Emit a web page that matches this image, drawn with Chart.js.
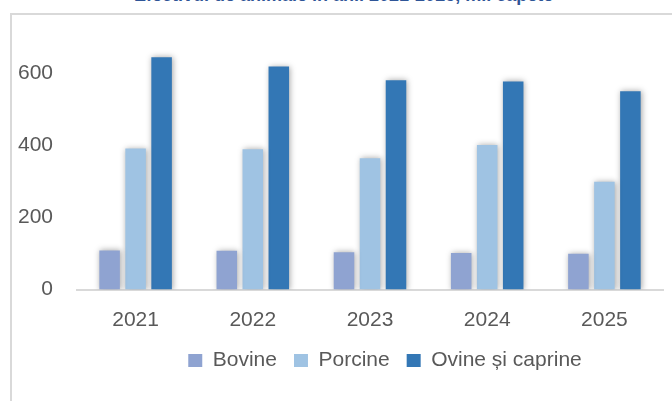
<!DOCTYPE html>
<html>
<head>
<meta charset="utf-8">
<script src="https://cdn.jsdelivr.net/npm/chart.js@4.4.1/dist/chart.umd.min.js"></script>
<style>
  html, body { margin: 0; padding: 0; background: #ffffff; overflow: hidden; width: 672px; height: 401px; }
  #frame { position: absolute; left: 10px; top: 13px; width: 800px; height: 500px;
           border-left: 2px solid #d9d9d9; border-top: 2px solid #d9d9d9; }
  #title { position: absolute; left: 134px; top: -15px; white-space: nowrap;
           font: bold 18px "Liberation Sans", Arial, sans-serif; line-height: 20px; color: #2f5597; }
  #wrap { position: absolute; left: 0; top: 0; width: 770px; height: 381px; }
</style>
</head>
<body>
<div id="frame"></div>
<div id="title">Efectivul de animale în anii 2021-2025, mii capete</div>
<div id="wrap"><canvas id="c"></canvas></div>
<script>
const categories = ['2021', '2022', '2023', '2024', '2025'];
const seriesNames = ['Bovine', 'Porcine', 'Ovine și caprine'];
const bovine = [108, 107, 103, 101, 99];
const porcine = [390, 388, 363, 400, 298];
const ovine = [643, 617, 579, 576, 549];
const yTicks = [0, 200, 400, 600];

const colors = ['#8fa3d1', '#9fc3e3', '#3377b5'];
const textColor = '#595959';
const font = { family: '"Liberation Sans", Arial, sans-serif', size: 21 };

const shadowPlugin = {
  id: 'barShadow',
  beforeDatasetsDraw(chart) {
    const ctx = chart.ctx;
    ctx.save();
    ctx.shadowColor = 'rgba(0,0,0,0.35)';
    ctx.shadowBlur = 6;
    ctx.shadowOffsetX = 1;
    ctx.shadowOffsetY = 0;
  },
  afterDatasetsDraw(chart) {
    chart.ctx.restore();
  }
};

new Chart(document.getElementById('c'), {
  type: 'bar',
  data: {
    labels: categories,
    datasets: [
      { label: seriesNames[0], data: bovine, backgroundColor: colors[0] },
      { label: seriesNames[1], data: porcine, backgroundColor: colors[1] },
      { label: seriesNames[2], data: ovine, backgroundColor: colors[2] }
    ]
  },
  options: {
    responsive: true,
    maintainAspectRatio: false,
    animation: false,
    devicePixelRatio: 1,
    categoryPercentage: 0.6655,
    barPercentage: 0.79,
    layout: { padding: { left: 0, right: 0, top: 34, bottom: 0 } },
    plugins: {
      title: { display: false },
      tooltip: { enabled: false },
      legend: {
        position: 'bottom',
        labels: {
          boxWidth: 14,
          boxHeight: 13,
          padding: 17,
          color: textColor,
          font: font
        }
      }
    },
    scales: {
      x: {
        grid: { display: false, drawTicks: false },
        border: { display: true, color: '#d9d9d9', width: 2 },
        ticks: { color: textColor, font: font, padding: 18 },
        afterFit(s) { s.height = 43.5; }
      },
      y: {
        min: 0,
        max: 700,
        grid: { display: false, drawTicks: false },
        border: { display: false },
        ticks: { color: textColor, font: font, padding: 24, stepSize: 200 },
        afterBuildTicks(s) { s.ticks = yTicks.map(v => ({ value: v })); },
        afterFit(s) { s.width = 77; }
      },
      y2: {
        position: 'right',
        display: true,
        grid: { display: false, drawTicks: false },
        border: { display: false },
        ticks: { display: false },
        afterFit(s) { s.width = 107; }
      }
    }
  },
  plugins: [shadowPlugin]
});
</script>
</body>
</html>
